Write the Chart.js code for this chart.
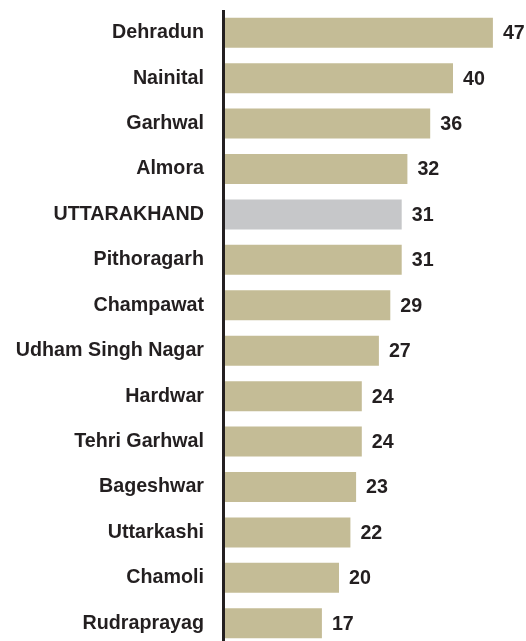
<!DOCTYPE html>
<html>
<head>
<meta charset="utf-8">
<script src="https://cdn.jsdelivr.net/npm/chart.js@4.4.0/dist/chart.umd.min.js"></script>
<style>
  html, body { margin: 0; padding: 0; background: #fff; overflow: hidden; }
  .wrap { position: absolute; left: 0; top: 0; width: 526px; height: 646px; }
</style>
</head>
<body>
<div class="wrap"><canvas id="bars"></canvas></div>
<script>
const districts = [
  "Dehradun", "Nainital", "Garhwal", "Almora", "UTTARAKHAND", "Pithoragarh",
  "Champawat", "Udham Singh Nagar", "Hardwar", "Tehri Garhwal", "Bageshwar",
  "Uttarkashi", "Chamoli", "Rudraprayag"
];
const values = [47, 40, 36, 32, 31, 31, 29, 27, 24, 24, 23, 22, 20, 17];
const stateName = "UTTARAKHAND";

const tan = "#c4bc96";
const grey = "#c6c7c9";
const ink = "#231f20";
const font = { family: "'Liberation Sans', Arial, sans-serif", size: 19.7, weight: "bold" };

const ctx = document.getElementById("bars").getContext("2d");

// vertical axis line, slightly left of where the bars begin
const axisLine = {
  id: "axisLine",
  beforeDatasetsDraw(chart) {
    const { ctx, chartArea } = chart;
    ctx.save();
    ctx.strokeStyle = ink;
    ctx.lineWidth = 3;
    ctx.beginPath();
    ctx.moveTo(chartArea.left - 1.5, chartArea.top);
    ctx.lineTo(chartArea.left - 1.5, chartArea.bottom + 10);
    ctx.stroke();
    ctx.restore();
  }
};

// numbers at the end of each bar
const valueLabels = {
  id: "valueLabels",
  afterDatasetsDraw(chart) {
    const { ctx } = chart;
    const meta = chart.getDatasetMeta(0);
    ctx.save();
    ctx.fillStyle = ink;
    ctx.font = `${font.weight} ${font.size}px ${font.family}`;
    ctx.textAlign = "left";
    ctx.textBaseline = "middle";
    meta.data.forEach((bar, i) => {
      ctx.fillText(values[i], bar.x + 10, bar.y + 1);
    });
    ctx.restore();
  }
};

new Chart(ctx, {
  type: "bar",
  data: {
    labels: districts,
    datasets: [{
      data: values,
      backgroundColor: districts.map((d) => d === stateName ? grey : tan),
      borderWidth: 0,
      barPercentage: 0.66,
      categoryPercentage: 1
    }]
  },
  options: {
    indexAxis: "y",
    responsive: true,
    maintainAspectRatio: false,
    animation: false,
    layout: { padding: { top: 10, right: 16, bottom: 0, left: 0 } },
    plugins: {
      legend: { display: false },
      tooltip: { enabled: false }
    },
    scales: {
      x: {
        display: false,
        min: 0,
        max: 50
      },
      y: {
        afterFit: (scale) => {
          scale.width = 225;
          // keep the label padding from shrinking the plot vertically
          scale.paddingTop = 0;
          scale.paddingBottom = 0;
        },
        grid: { display: false, drawTicks: false },
        border: { display: false },
        ticks: {
          color: ink,
          font: font,
          padding: 21
        }
      }
    }
  },
  plugins: [axisLine, valueLabels]
});
</script>
</body>
</html>
